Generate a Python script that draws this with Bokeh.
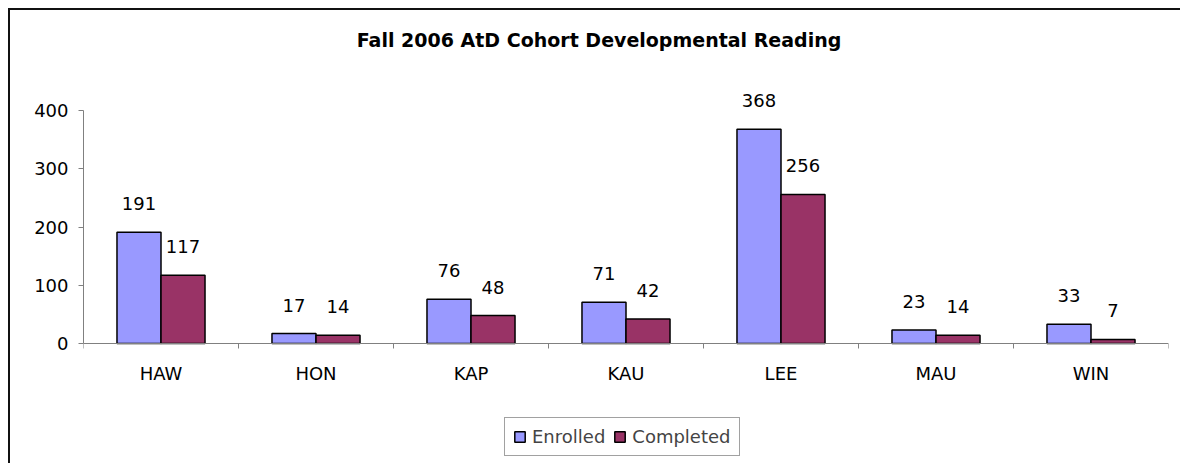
from bokeh.plotting import figure
from bokeh.models import (ColumnDataSource, FixedTicker, Range1d, Legend, LegendItem, Label, LabelSet)
from bokeh.core.properties import value
from bokeh.embed import file_html
from bokeh.resources import INLINE
import numpy as np

campuses = ["HAW", "HON", "KAP", "KAU", "LEE", "MAU", "WIN"]
enrolled = [191, 17, 76, 71, 368, 23, 33]
completed = [117, 14, 48, 42, 256, 14, 7]
y_ticks = [0, 100, 200, 300, 400]
title_text = "Fall 2006 AtD Cohort Developmental Reading"

FONT = "DejaVu Sans"
FS = "18px"
BAR_W = 0.284
idx = np.arange(len(campuses)) + 0.5

src = ColumnDataSource(dict(
    xe=idx - BAR_W / 2, xc=idx + BAR_W / 2,
    enrolled=enrolled, completed=completed,
    le=[str(v) for v in enrolled], lc=[str(v) for v in completed],
))

Y_MAX = 400
PX_PER_UNIT = 233 / Y_MAX
TOP_PX = 100      # space above the 400 gridline
BOTTOM_PX = 120   # space below the zero line (category labels + legend)
FRAME_H = TOP_PX + 233 + BOTTOM_PX
p = figure(width=1170, height=FRAME_H, frame_width=1085, frame_height=FRAME_H,
           output_backend="svg", toolbar_location=None,
           x_range=Range1d(0, len(campuses)),
           y_range=Range1d(-BOTTOM_PX / PX_PER_UNIT, Y_MAX + TOP_PX / PX_PER_UNIT),
           min_border_left=73, min_border_right=12, min_border_top=0, min_border_bottom=0)
p.styles = {"border-top": "2px solid #111", "border-left": "2px solid #111",
            "margin-top": "8px", "margin-left": "8px"}
p.outline_line_color = None
p.xgrid.visible = False
p.ygrid.visible = False
p.background_fill_color = "white"
p.border_fill_color = "white"

# chart title
p.add_layout(Label(x=len(campuses) / 2, y=Y_MAX, x_offset=-27, y_offset=71,
                   text=title_text, text_font=FONT, text_font_size="19px",
                   text_font_style="bold", text_color="black",
                   text_align="center", text_baseline="middle"))

re_ = p.vbar(x="xe", top="enrolled", width=BAR_W, source=src,
             fill_color="#9999FF", line_color="black", line_width=1.5)
rc_ = p.vbar(x="xc", top="completed", width=BAR_W, source=src,
             fill_color="#993366", line_color="black", line_width=1.5)

for xcol, ycol, tcol in (("xe", "enrolled", "le"), ("xc", "completed", "lc")):
    p.add_layout(LabelSet(x=xcol, y=ycol, text=tcol, source=src, text_align="center",
                          text_baseline="alphabetic", y_offset=22, text_font_size=FS,
                          text_font=value(FONT), text_color="black"))

# category axis fixed on the zero line
xa = p.xaxis[0]
xa.fixed_location = 0
xa.ticker = FixedTicker(ticks=list(idx), minor_ticks=list(range(len(campuses) + 1)))
xa.major_label_overrides = {float(v): c for v, c in zip(idx, campuses)}
xa.major_tick_line_color = None
xa.major_tick_out = 0
xa.major_tick_in = 0
xa.minor_tick_in = 0
xa.minor_tick_out = 5
xa.minor_tick_line_color = "#808080"
xa.axis_line_color = "#808080"
xa.major_label_text_font = FONT
xa.major_label_text_font_size = FS
xa.major_label_text_color = "black"
xa.major_label_standoff = 14

ya = p.yaxis[0]
ya.ticker = FixedTicker(ticks=y_ticks)
ya.bounds = (0, Y_MAX)
ya.minor_tick_line_color = None
ya.major_tick_in = 0
ya.major_tick_out = 5
ya.major_tick_line_color = "#808080"
ya.axis_line_color = "#808080"
ya.major_label_text_font = FONT
ya.major_label_text_font_size = FS
ya.major_label_text_color = "black"
ya.major_label_standoff = 10

legend = Legend(items=[LegendItem(label="Enrolled", renderers=[re_]),
                       LegendItem(label="Completed", renderers=[rc_])],
                orientation="horizontal", location=(421, 7),
                label_text_font=FONT, label_text_font_size=FS,
                glyph_width=13, glyph_height=13, label_standoff=6, spacing=8,
                padding=8, margin=0, border_line_color="#444",
                label_height=20)
p.add_layout(legend, "center")

open("out.html", "w").write(file_html(p, INLINE))
